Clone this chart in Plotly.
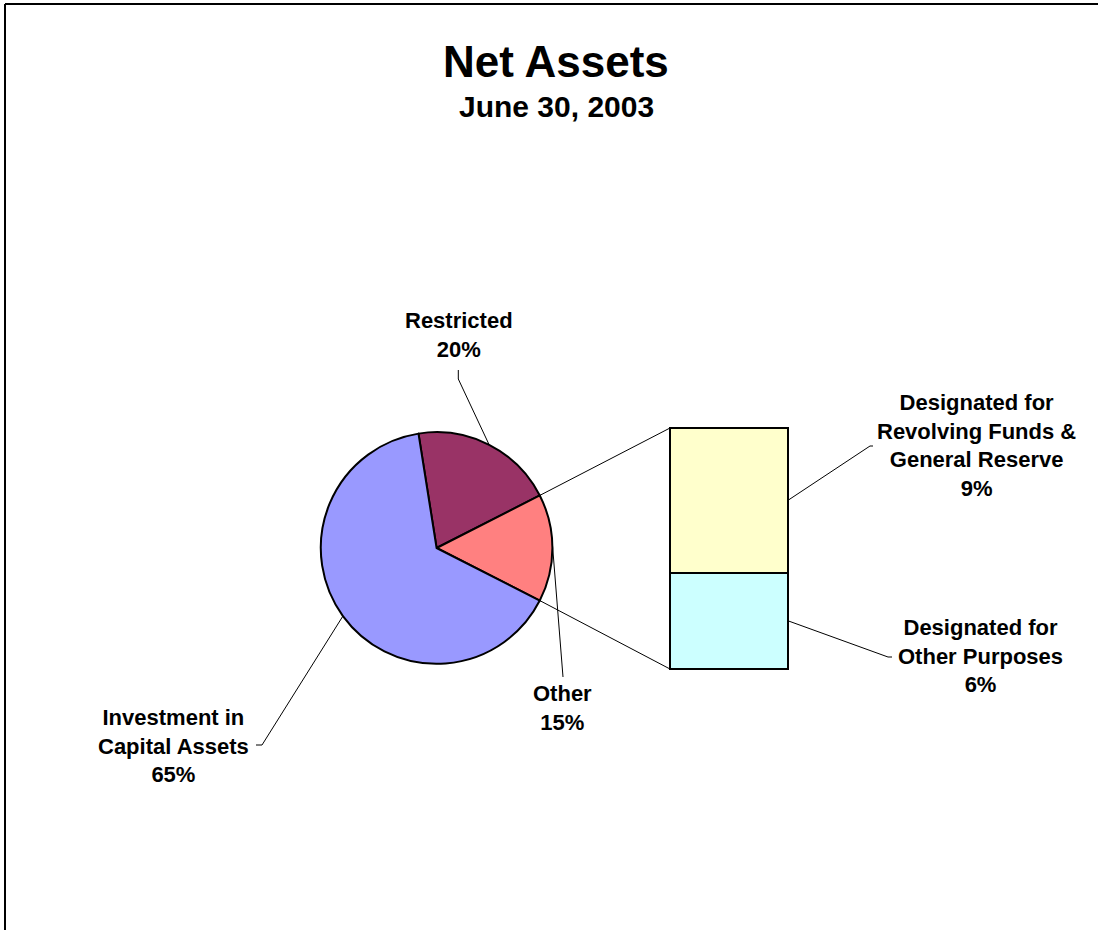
import math
import plotly.graph_objects as go

W, H = 1098, 930

# ---- data ----
pie_labels = ["Restricted", "Other", "Investment in<br>Capital Assets"]
pie_values = [20, 15, 65]
pie_colors = ["#993366", "#FF8080", "#9999FF"]

bar_labels = ["Designated for<br>Other Purposes", "Designated for<br>Revolving Funds &<br>General Reserve"]
bar_values = [6, 9]
bar_colors = ["#CCFFFF", "#FFFFCC"]

title = "Net Assets"
subtitle = "June 30, 2003"

# ---- layout geometry (pixels) ----
cx, cy, R = 436.6, 548.0, 115.8
bx0, bx1, by_top, by_bot = 670.0, 788.0, 428.0, 669.0
FONT = "Liberation Sans, Arial, sans-serif"

total = sum(pie_values)
other_idx = 1
# "Other" slice centred at 3 o'clock, as in Excel's bar-of-pie
other_span = 360.0 * pie_values[other_idx] / total
rotation = 90.0 - other_span / 2 - 360.0 * pie_values[0] / total

def pie_pt(ang_deg, r=R):
    a = math.radians(ang_deg)
    return cx + r * math.sin(a), cy - r * math.cos(a)

# slice angles
angles = []
a = rotation
for v in pie_values:
    span = 360.0 * v / total
    angles.append((a, a + span))
    a += span

fig = go.Figure()

fig.add_trace(go.Pie(
    labels=[l.replace("<br>", " ") for l in pie_labels], values=pie_values, sort=False,
    direction="clockwise", rotation=rotation,
    marker=dict(colors=pie_colors, line=dict(color="black", width=2)),
    textinfo="none", hoverinfo="label+percent", showlegend=False,
    domain=dict(x=[(cx - R) / W, (cx + R) / W],
                y=[(H - cy - R) / H, (H - cy + R) / H]),
))

for lab, v, c in zip(bar_labels, bar_values, bar_colors):
    fig.add_trace(go.Bar(
        x=["Other"], y=[v], width=1, name=lab.replace("<br>", " "),
        marker=dict(color=c, line=dict(color="black", width=2)),
        xaxis="x2", yaxis="y2", showlegend=False,
    ))

bar_total = sum(bar_values)
def bar_y(v):
    return by_bot - (by_bot - by_top) * v / bar_total

# padding so that bar outlines are not clipped by the subplot area
pad = 4.0
px_per_x = (bx1 - bx0) / 1.0
px_per_y = (by_bot - by_top) / bar_total

shapes = []
def line(x0, y0, x1, y1, w=1):
    shapes.append(dict(type="line", xref="x", yref="y", x0=x0, y0=y0, x1=x1, y1=y1,
                       line=dict(color="black", width=w)))

# connector lines from "Other" slice to the bar
p_top = pie_pt(angles[other_idx][0])
p_bot = pie_pt(angles[other_idx][1])
line(p_top[0], p_top[1], bx0, by_top)
line(p_bot[0], p_bot[1], bx0, by_bot)

# leader lines
mid = [(s + e) / 2 for s, e in angles]
pr = pie_pt(mid[0])
line(pr[0], pr[1], 458.3, 379)
line(458.3, 379, 458.3, 370)
po = pie_pt(mid[1])
line(po[0], po[1] - 4, 563, 677)
pi_ = pie_pt(mid[2])
line(pi_[0], pi_[1], 262, 745)
line(262, 745, 256, 745)
cum = 0
bar_mid = []
for v in bar_values:
    bar_mid.append(bar_y(cum + v / 2))
    cum += v
line(bx1, bar_mid[1], 870, 446)
line(870, 446, 873, 446)
line(bx1, bar_mid[0], 888, 657)
line(888, 657, 892, 657)

# outer frame (top and left edges visible)
line(5, 4, W, 4, 2)
line(5, 4, 5, H, 2)

annotations = []
def text(x, y, s, size=22):
    annotations.append(dict(xref="x", yref="y", x=x, y=y, text=s, showarrow=False,
                            xanchor="center", yanchor="middle",
                            font=dict(family=FONT, size=size, color="black")))

text(556, 61, "<b>%s</b>" % title, 44)
text(556, 106, "<b>%s</b>" % subtitle, 30)

pct = [round(100 * v / total) for v in pie_values]
text(459, 335, "<b>%s<br>%d%%</b>" % (pie_labels[0], pct[0]))
text(562, 708, "<b>%s<br>%d%%</b>" % (pie_labels[1], pct[1]))
text(173, 746, "<b>%s<br>%d%%</b>" % (pie_labels[2], pct[2]))
bpct = [round(100 * v / total) for v in bar_values]
text(976, 445, "<b>%s<br>%d%%</b>" % (bar_labels[1], bpct[1]))
text(980, 656, "<b>%s<br>%d%%</b>" % (bar_labels[0], bpct[0]))

fig.update_layout(
    width=W, height=H, margin=dict(l=0, r=0, t=0, b=0),
    paper_bgcolor="white", plot_bgcolor="rgba(0,0,0,0)",
    barmode="stack", bargap=0,
    xaxis=dict(range=[0, W], domain=[0, 1], visible=False, fixedrange=True),
    yaxis=dict(range=[H, 0], domain=[0, 1], visible=False, fixedrange=True),
    xaxis2=dict(domain=[(bx0 - pad) / W, (bx1 + pad) / W],
                range=[-0.5 - pad / px_per_x, 0.5 + pad / px_per_x], visible=False,
                anchor="y2", type="category", fixedrange=True),
    yaxis2=dict(domain=[(H - by_bot - pad) / H, (H - by_top + pad) / H],
                range=[-pad / px_per_y, bar_total + pad / px_per_y],
                visible=False, anchor="x2", fixedrange=True),
    shapes=shapes, annotations=annotations,
)

fig.write_html("out.html", config={"displayModeBar": False},
               post_script="document.body.style.margin='0';document.body.style.overflow='hidden';")
